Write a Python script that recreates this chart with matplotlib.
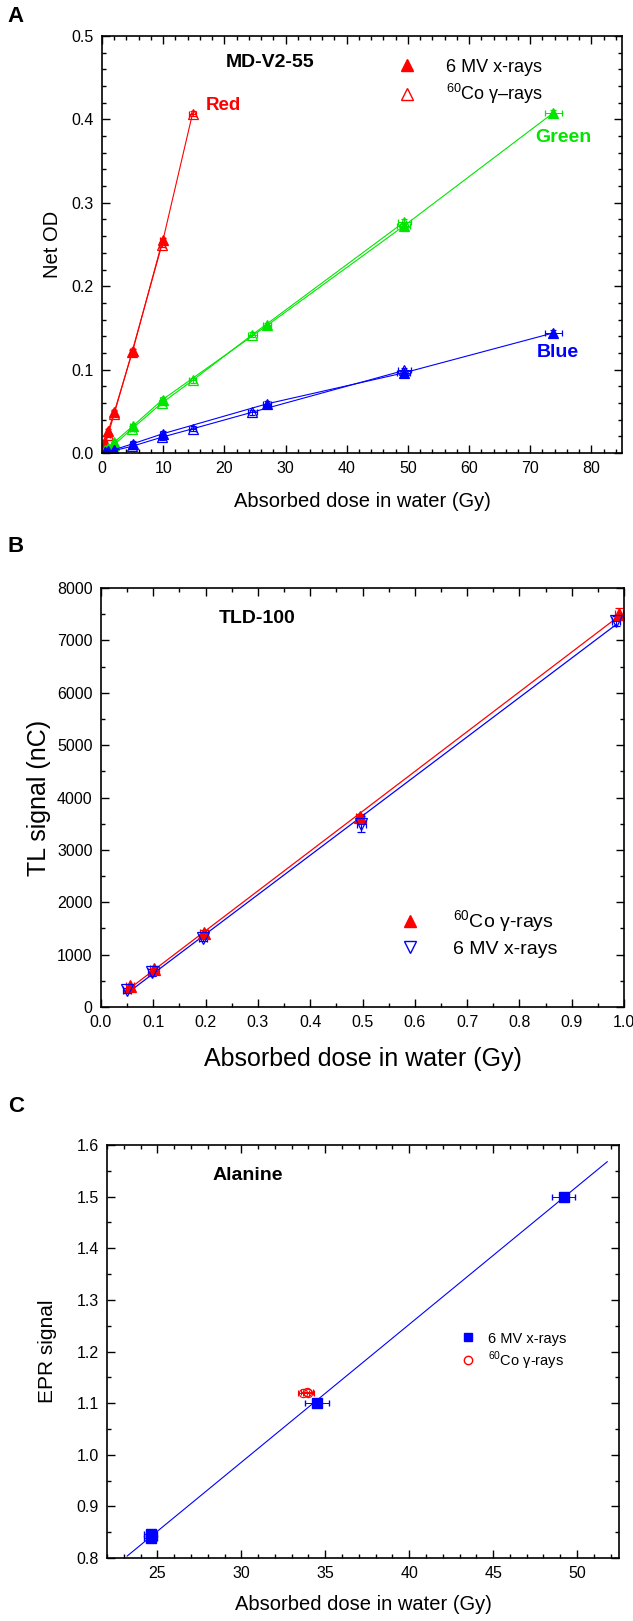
import numpy as np
import matplotlib.pyplot as plt
from matplotlib.ticker import MultipleLocator
from matplotlib.lines import Line2D

plt.rcParams['font.family'] = ['Liberation Sans', 'DejaVu Sans']
plt.rcParams['mathtext.fontset'] = 'custom'
plt.rcParams['mathtext.rm'] = 'Liberation Sans'

RED = '#ff0000'
GREEN = '#00e600'
BLUE = '#0000ff'

# Panel A: MD-V2-55 film, net OD vs dose
red_6mv_x = [0.5, 1.0, 2.0, 5.0, 9.9]
red_6mv_y = [0.012, 0.026, 0.049, 0.122, 0.255]
red_co_x = [0.5, 1.0, 2.0, 4.9, 9.8, 14.8]
red_co_y = [0.009, 0.022, 0.047, 0.121, 0.250, 0.407]
green_6mv_x = [0.5, 1.0, 2.0, 5.0, 9.9, 27.0, 49.3, 73.8]
green_6mv_y = [0.003, 0.006, 0.013, 0.032, 0.064, 0.153, 0.272, 0.408]
green_co_x = [0.5, 1.0, 2.0, 4.9, 9.8, 14.8, 24.6, 49.4]
green_co_y = [0.002, 0.005, 0.010, 0.029, 0.060, 0.087, 0.142, 0.277]
blue_6mv_x = [0.5, 1.0, 2.0, 5.0, 9.9, 27.0, 49.3, 73.8]
blue_6mv_y = [0.001, 0.002, 0.004, 0.011, 0.023, 0.059, 0.096, 0.144]
blue_co_x = [0.5, 1.0, 2.0, 4.9, 9.8, 14.8, 24.6, 49.4]
blue_co_y = [0.001, 0.001, 0.003, 0.008, 0.019, 0.029, 0.049, 0.099]

# Panel B: TLD-100
tld_co_x = [0.055, 0.102, 0.197, 0.495, 0.99]
tld_co_y = [400, 730, 1410, 3620, 7500]
tld_co_err = [40, 50, 60, 60, 110]
tld_6mv_x = [0.05, 0.097, 0.195, 0.498, 0.985]
tld_6mv_y = [320, 660, 1320, 3500, 7370]
tld_6mv_err = [50, 60, 60, 150, 100]

# Panel C: alanine
ala_6mv_x = [24.6, 24.6, 34.5, 49.2]
ala_6mv_y = [0.838, 0.847, 1.101, 1.500]
ala_6mv_xerr = [0.4, 0.4, 0.7, 0.7]
ala_co_x = [33.7, 33.9, 34.0]
ala_co_y = [1.120, 1.122, 1.120]
ala_co_xerr = [0.35, 0.35, 0.35]
ala_fit_range = [23.2, 51.8]

W, H = 633, 1621
fig = plt.figure(figsize=(W / 100, H / 100), dpi=100)


def add_axes(l, r, t, b):
    return fig.add_axes([l / W, 1 - b / H, (r - l) / W, (b - t) / H])


def style(ax, size=11.5):
    ax.tick_params(which='both', direction='in', top=True, right=True,
                   labelsize=size, width=1.0, pad=6)
    ax.tick_params(which='major', length=6)
    ax.tick_params(which='minor', length=3)
    for s in ax.spines.values():
        s.set_linewidth(1.2)


co_dash = '$^{60}$Co γ–rays'
co_hyph = '$^{60}$Co γ-rays'

# ---------------- A
ax = add_axes(102, 622, 36, 453)
series = [
    (red_6mv_x, red_6mv_y, RED, True), (red_co_x, red_co_y, RED, False),
    (green_6mv_x, green_6mv_y, GREEN, True), (green_co_x, green_co_y, GREEN, False),
    (blue_6mv_x, blue_6mv_y, BLUE, True), (blue_co_x, blue_co_y, BLUE, False),
]
for x, y, c, filled in series:
    x = np.array(x)
    ax.errorbar(x, y, xerr=0.015 * x + 0.3, yerr=0.003, color=c, lw=0.8,
                elinewidth=0.7, capsize=2, marker='^', ms=6.5,
                mfc=c if filled else 'none', mec=c, mew=0.9)
ax.set_xlim(0, 85)
ax.set_ylim(0, 0.5)
ax.xaxis.set_major_locator(MultipleLocator(10))
ax.xaxis.set_minor_locator(MultipleLocator(2))
ax.yaxis.set_major_locator(MultipleLocator(0.1))
ax.yaxis.set_minor_locator(MultipleLocator(0.02))
ax.yaxis.set_major_formatter(lambda v, p: f'{v:.1f}')
style(ax)
ax.set_xlabel('Absorbed dose in water (Gy)', fontsize=14.5, labelpad=11)
ax.set_ylabel('Net OD', fontsize=14.5, labelpad=7)
ax.text(20.2, 0.468, 'MD-V2-55', fontsize=14, fontweight='bold', va='center')
ax.text(17, 0.417, 'Red', color=RED, fontsize=13.5, fontweight='bold', va='center')
ax.text(70.9, 0.378, 'Green', color=GREEN, fontsize=14, fontweight='bold', va='center')
ax.text(71, 0.121, 'Blue', color=BLUE, fontsize=14, fontweight='bold', va='center')
h = [Line2D([], [], ls='none', marker='^', ms=8, color=RED),
     Line2D([], [], ls='none', marker='^', ms=8, mfc='none', mec=RED)]
ax.legend(h, ['6 MV x-rays', co_dash], loc='upper left', bbox_to_anchor=(0.52, 0.985),
          frameon=False, fontsize=13, handletextpad=1.2, labelspacing=0.35)
fig.text(16 / W, 1 - 17 / H, 'A', fontsize=16, fontweight='bold', va='center',
         ha='center')

# ---------------- B
ax = add_axes(101, 624, 588, 1007)
for x, y, e, c, m, filled in [(tld_co_x, tld_co_y, tld_co_err, RED, '^', True),
                              (tld_6mv_x, tld_6mv_y, tld_6mv_err, BLUE, 'v', False)]:
    ax.errorbar(x, y, yerr=e, xerr=0.008, ls='none', color=c, elinewidth=0.8,
                capsize=3, marker=m, ms=8, mfc=c if filled else 'none', mec=c,
                mew=0.9)
    k, b0 = np.polyfit(x, y, 1)
    xs = np.array([min(x), max(x)])
    ax.plot(xs, k * xs + b0, color=c, lw=0.9)
ax.set_xlim(0, 1.0)
ax.set_ylim(0, 8000)
ax.xaxis.set_major_locator(MultipleLocator(0.1))
ax.xaxis.set_minor_locator(MultipleLocator(0.05))
ax.yaxis.set_major_locator(MultipleLocator(1000))
ax.yaxis.set_minor_locator(MultipleLocator(500))
ax.xaxis.set_major_formatter(lambda v, p: f'{v:.1f}')
style(ax)
ax.set_xlabel('Absorbed dose in water (Gy)', fontsize=18, labelpad=12)
ax.set_ylabel('TL signal (nC)', fontsize=18, labelpad=4)
ax.text(0.226, 7424, 'TLD-100', fontsize=14, fontweight='bold', va='center')
h = [Line2D([], [], ls='none', marker='^', ms=9, color=RED),
     Line2D([], [], ls='none', marker='v', ms=9, mfc='none', mec=BLUE)]
ax.legend(h, [co_hyph, '6 MV x-rays'], loc='lower left',
          bbox_to_anchor=(0.52, 0.075), frameon=False, fontsize=14,
          handletextpad=1.2, labelspacing=0.3)
fig.text(16 / W, 1 - 547 / H, 'B', fontsize=16, fontweight='bold', va='center',
         ha='center')

# ---------------- C
ax = add_axes(107, 619, 1145, 1558)
ax.errorbar(ala_co_x, ala_co_y, xerr=ala_co_xerr, ls='none', color=RED,
            elinewidth=0.7, capsize=2, marker='o', ms=6, mfc='none', mec=RED,
            mew=0.8)
ax.errorbar(ala_6mv_x, ala_6mv_y, xerr=ala_6mv_xerr, yerr=0.005, ls='none',
            color=BLUE, elinewidth=0.7, capsize=2, marker='s', ms=7)
k, b0 = np.polyfit(ala_6mv_x, ala_6mv_y, 1)
xs = np.array(ala_fit_range)
ax.plot(xs, k * xs + b0, color=BLUE, lw=0.8)
ax.set_xlim(22, 52.5)
ax.set_ylim(0.8, 1.6)
ax.xaxis.set_major_locator(MultipleLocator(5))
ax.xaxis.set_minor_locator(MultipleLocator(1))
ax.yaxis.set_major_locator(MultipleLocator(0.1))
ax.yaxis.set_minor_locator(MultipleLocator(0.05))
ax.yaxis.set_major_formatter(lambda v, p: f'{v:.1f}')
style(ax)
ax.set_xlabel('Absorbed dose in water (Gy)', fontsize=14.5, labelpad=10)
ax.set_ylabel('EPR signal', fontsize=15, labelpad=14)
ax.text(28.3, 1.54, 'Alanine', fontsize=14, fontweight='bold', va='center')
h = [Line2D([], [], ls='none', marker='s', ms=6, color=BLUE),
     Line2D([], [], ls='none', marker='o', ms=6, mfc='none', mec=RED)]
ax.legend(h, ['6 MV x-rays', co_hyph], loc='upper left',
          bbox_to_anchor=(0.65, 0.58), frameon=False, fontsize=10.5,
          handletextpad=0.4, labelspacing=0.25)
fig.text(16 / W, 1 - 1106 / H, 'C', fontsize=16, fontweight='bold', va='center',
         ha='center')

fig.savefig('out.png', dpi=100)
